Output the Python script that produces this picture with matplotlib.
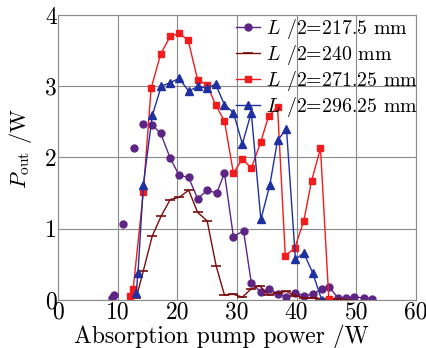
import numpy as np
import matplotlib
matplotlib.use("Agg")
import matplotlib.pyplot as plt
from matplotlib.ticker import FuncFormatter

plt.rcParams['mathtext.fontset'] = 'cm'
plt.rcParams['font.family'] = 'cmr10'
plt.rcParams['axes.formatter.use_mathtext'] = True

# L/2 = 217.5 mm (first few points are scattered, line starts later)
x1 = [9.1, 9.4, 10.9, 12.8, 14.3, 15.8, 17.2, 18.8, 20.3, 21.9, 23.4, 25.0, 26.6,
      27.9, 29.4, 31.1, 32.4, 34.0, 35.3, 36.8, 38.3, 39.8, 41.2, 42.7, 44.2,
      45.5, 46.9, 48.2, 49.7, 51.3, 52.6]
y1 = [0.03, 0.07, 1.07, 2.13, 2.47, 2.45, 2.34, 1.99, 1.75, 1.72, 1.42, 1.54, 1.50,
      1.78, 0.89, 0.97, 0.24, 0.11, 0.15, 0.09, 0.04, 0.10, 0.06, 0.08, 0.15,
      0.18, 0.03, 0.03, 0.04, 0.03, 0.02]
line1_start = 5

# L/2 = 240 mm
x2 = [13.1, 14.3, 15.8, 17.3, 18.8, 20.3, 21.9, 23.4, 25.0, 26.5, 27.9, 29.4, 30.9,
      32.3, 33.8, 35.3, 36.8, 38.3, 39.8, 41.2, 42.7, 44.0, 45.4, 46.9, 48.4]
y2 = [0.03, 0.41, 0.90, 1.18, 1.41, 1.44, 1.54, 1.23, 1.11, 0.48, 0.07, 0.08, 0.04,
      0.15, 0.20, 0.07, 0.10, 0.12, 0.06, 0.03, 0.03, 0.02, 0.02, 0.01, 0.0]

# L/2 = 271.25 mm
x3 = [12.1, 12.6, 14.3, 15.6, 17.2, 18.8, 20.3, 21.8, 23.4, 25.0, 26.4, 27.9, 29.4,
      30.9, 32.4, 34.0, 35.3, 36.8, 38.1, 39.7, 41.2, 42.5, 44.0, 45.4]
y3 = [0.05, 0.16, 1.52, 2.97, 3.45, 3.70, 3.74, 3.65, 3.09, 3.02, 2.74, 2.51, 1.78,
      1.98, 1.85, 2.22, 2.58, 2.71, 0.62, 0.73, 1.11, 1.67, 2.13, 0.01]

# L/2 = 296.25 mm
x4 = [13.1, 13.4, 14.3, 15.8, 17.3, 18.8, 20.3, 21.9, 23.5, 25.0, 26.4, 27.9, 29.4,
      30.9, 32.4, 34.0, 35.5, 36.8, 38.3, 39.8, 41.2, 42.7, 44.2]
y4 = [0.10, 0.38, 1.62, 2.59, 3.00, 3.05, 3.11, 2.93, 3.00, 2.97, 3.03, 2.74, 2.63,
      2.19, 2.63, 1.13, 1.61, 2.24, 2.40, 0.57, 0.66, 0.38, 0.0]

labels = [r'$L$ /2=217.5 mm', r'$L$ /2=240 mm',
          r'$L$ /2=271.25 mm', r'$L$ /2=296.25 mm']

c_purple = '#5e2585'
c_brown = '#7a0c0c'
c_red = '#f21c1c'
c_blue = '#1f30a0'

fig = plt.figure(figsize=(4.27, 3.48), dpi=100)
ax = fig.add_axes([0.136, 0.138, 0.838, 0.819])

ax.grid(True, color='#8a8a8a', linewidth=0.8)
ax.set_axisbelow(True)

h1, = ax.plot(x1[line1_start:], y1[line1_start:], '-o', color=c_purple, ms=5, lw=1, label=labels[0])
ax.plot(x1[:line1_start], y1[:line1_start], 'o', color=c_purple, ms=5)
h2, = ax.plot(x2, y2, '-_', color=c_brown, ms=7, mew=1.2, lw=1, label=labels[1])
h3, = ax.plot(x3, y3, '-s', color=c_red, ms=5, lw=1, label=labels[2])
h4, = ax.plot(x4, y4, '-^', color=c_blue, ms=5.5, lw=1, label=labels[3])

ax.set_xlim(0, 60)
ax.set_ylim(0, 4)
ax.set_xticks(np.arange(0, 61, 10))
ax.set_yticks(np.arange(0, 5, 1))
ax.xaxis.set_major_formatter(FuncFormatter(lambda v, p: '%d' % v))
ax.yaxis.set_major_formatter(FuncFormatter(lambda v, p: '%d' % v))
ax.tick_params(length=0, labelsize=17, pad=1)
for s in ax.spines.values():
    s.set_color('#8a8a8a')
    s.set_linewidth(0.8)

ax.set_xlabel('Absorption pump power /W', fontsize=17, labelpad=-1)
ax.xaxis.set_label_coords(0.457, -0.085)
ax.set_ylabel(r'$P_{\mathrm{out}}$ /W', fontsize=16, labelpad=4)
ax.yaxis.set_label_coords(-0.066, 0.53)

ax.legend(handles=[h1, h2, h3, h4], loc='upper right', bbox_to_anchor=(1.01, 1.0),
          frameon=False, fontsize=14.3,
          handlelength=1.2, handletextpad=0.3, labelspacing=0.1,
          borderaxespad=0.0, borderpad=0.1)

fig.savefig('out.png', dpi=100)
